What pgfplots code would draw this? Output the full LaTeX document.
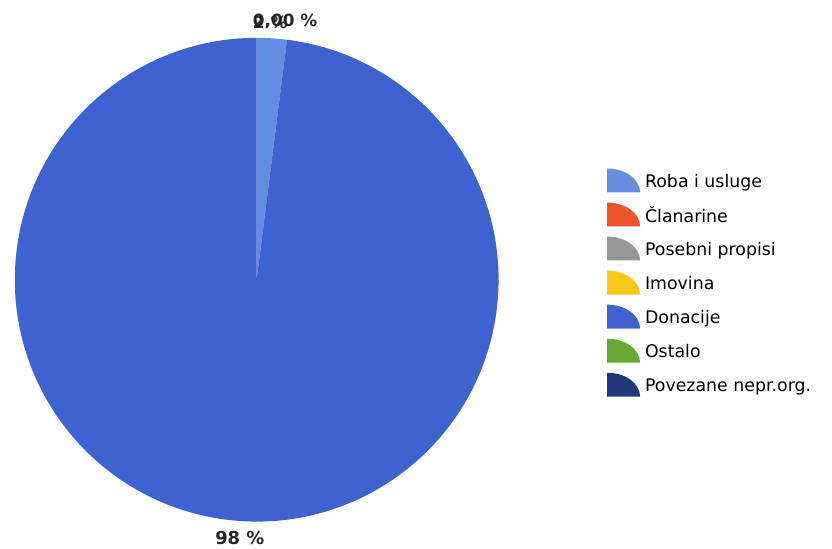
\documentclass[border=0pt]{standalone}
\usepackage{pgfplots}
\pgfplotsset{compat=1.18}
\usepackage{pgfplotstable}
\usepackage{fontspec}
\setmainfont{DejaVu Sans}
\definecolor{cRoba}{RGB}{100,142,226}
\definecolor{cClan}{RGB}{235,85,40}
\definecolor{cPos}{RGB}{150,150,150}
\definecolor{cImo}{RGB}{250,200,20}
\definecolor{cDon}{RGB}{62,98,208}
\definecolor{cOst}{RGB}{100,170,50}
\definecolor{cPov}{RGB}{30,55,125}
% shares in percent, clockwise from 12 o'clock
\pgfplotstableread{
label value
Roba 2
Clanarine 0
Posebni 0
Imovina 0
Donacije 98
Ostalo 0
Povezane 0
}\piedata
\pgfplotstablegetelem{0}{value}\of\piedata \let\vRoba\pgfplotsretval
\pgfplotstablegetelem{4}{value}\of\piedata \let\vDon\pgfplotsretval
\pgfmathsetmacro{\aA}{90}
\pgfmathsetmacro{\aB}{90-3.6*\vRoba}
\pgfmathsetmacro{\aC}{\aB-3.6*\vDon}
\begin{document}
\begin{tikzpicture}
\begin{axis}[
  scale only axis, width=832bp, height=550bp,
  xmin=0, xmax=832, ymin=0, ymax=550, y dir=reverse,
  hide axis, clip=false,
  legend cell align=left,
  legend style={at={(axis cs:603,163)}, anchor=north west, draw=none, fill=none,
    font=\fontsize{17.5}{20}\selectfont, row sep=0pt,
    nodes={inner xsep=4bp, inner ysep=0pt}},
  legend image code/.code={
    \path[draw=none, fill=none] (0bp,-17.1bp) rectangle (34bp,17.1bp);
    \fill[#1, draw=none] (0bp,-11bp) -- (0bp,13bp) arc[start angle=90, end angle=0, x radius=33bp, y radius=24bp] -- cycle;
  },
]
\path[draw=none, fill=none] (axis cs:0,0) rectangle (axis cs:832,550);
\fill[cRoba] (axis cs:254,281) -- ++(\aA:243bp) arc[start angle=\aA, end angle=\aB, radius=243bp] -- cycle;
\fill[cDon] (axis cs:254,281) -- ++(\aB:243bp) arc[start angle=\aB, end angle=\aC, radius=243bp] -- cycle;
\addlegendimage{cRoba}\addlegendentry{Roba i usluge}
\addlegendimage{cClan}\addlegendentry{Članarine}
\addlegendimage{cPos}\addlegendentry{Posebni propisi}
\addlegendimage{cImo}\addlegendentry{Imovina}
\addlegendimage{cDon}\addlegendentry{Donacije}
\addlegendimage{cOst}\addlegendentry{Ostalo}
\addlegendimage{cPov}\addlegendentry{Povezane nepr.org.}
\node[font=\fontsize{18}{20}\selectfont\bfseries, text=black!85] at (axis cs:237,541) {98 \%};
\node[anchor=west, inner sep=0pt, font=\fontsize{17}{19}\selectfont\bfseries, text=black!85] at (axis cs:250,22) {0,00 \%};
\node[anchor=west, inner sep=0pt, font=\fontsize{17}{19}\selectfont\bfseries, text=black!85] at (axis cs:250,22) {2 \%};
\end{axis}
\end{tikzpicture}
\end{document}
